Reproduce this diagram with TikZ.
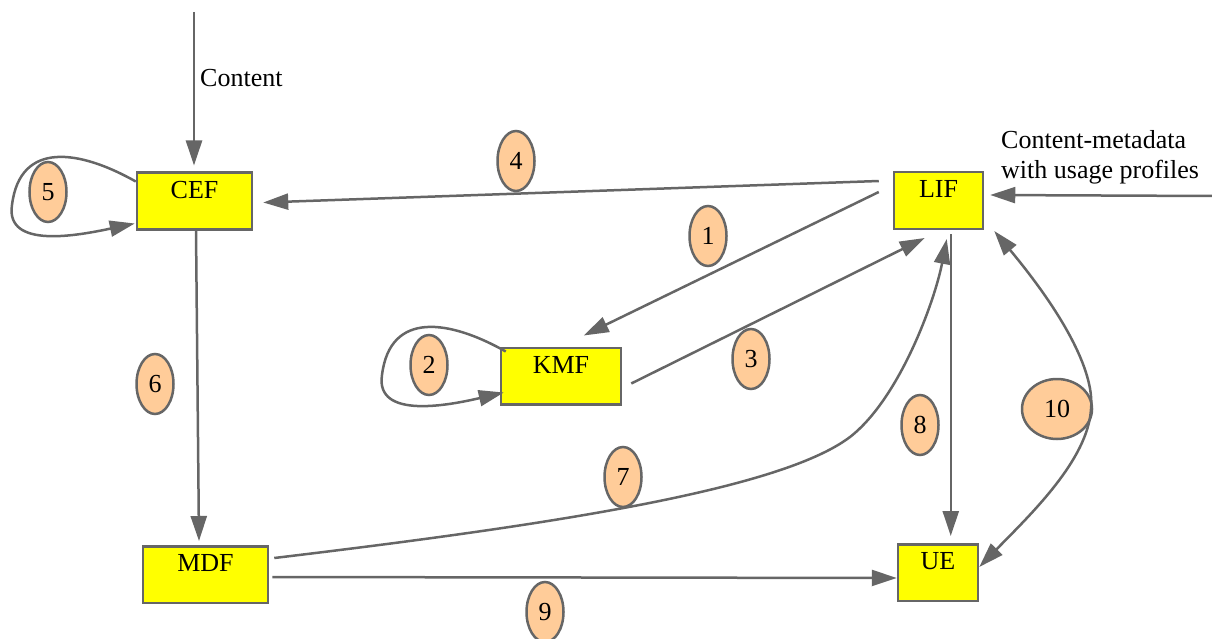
\documentclass[tikz,border=0pt]{standalone}
\usepackage{fontspec}
\setmainfont{Liberation Serif}
\usetikzlibrary{arrows.meta,calc,shapes.geometric}
\definecolor{edgegray}{HTML}{666666}
\definecolor{peach}{HTML}{FFCC99}
\definecolor{boxyellow}{HTML}{FFFF00}
\begin{document}
\begin{tikzpicture}[x=1pt,y=-1pt,
  every node/.style={font=\fontsize{26}{30}\selectfont},
  box/.style={draw=edgegray, line width=2.5pt, fill=boxyellow, inner sep=0pt,
    text height=25.5pt, text depth=31pt},
  lab/.style={ellipse, draw=edgegray, line width=2.5pt, fill=peach, inner sep=0pt,
    minimum width=37pt, minimum height=60pt},
  conn/.style={draw=edgegray, line width=2.5pt, -{Triangle[length=25pt,width=16pt]}},
  dconn/.style={draw=edgegray, line width=2.5pt, {Triangle[length=25pt,width=16pt]}-{Triangle[length=25pt,width=16pt]}},
  plain/.style={inner sep=0pt}
]
\useasboundingbox (0,0) rectangle (1212,639);

% boxes
\node[box, minimum width=115pt] (cef) at (194.5,201) {CEF};
\node[box, minimum width=89pt]  (lif) at (938.5,200.5) {LIF};
\node[box, minimum width=120pt] (kmf) at (561,376) {KMF};
\node[box, minimum width=125pt] (mdf) at (205.5,574.5) {MDF};
\node[box, minimum width=80pt]  (ue)  at (938,572.5) {UE};

% numbered labels
\node[lab] (n1) at (708,236) {1};
\node[lab] (n2) at (429,365) {2};
\node[lab] (n3) at (751,359) {3};
\node[lab] (n4) at (516,161) {4};
\node[lab] (n5) at (48,192) {5};
\node[lab] (n6) at (155,384) {6};
\node[lab] (n7) at (623,477) {7};
\node[lab] (n8) at (920,425) {8};
\node[lab] (n9) at (545,612) {9};
\node[lab, minimum width=70pt] (n10) at (1057,409) {10};

% texts
\node[plain, anchor=base west] (tcontent) at (200,87) {Content};
\node[plain, anchor=north west, align=left] (tmeta) at (1001,130) {Content-metadata\\with usage profiles};

% inputs
\coordinate (cin) at (194,12);
\coordinate (min) at (1212,196);
\draw[conn] (cin) -- ($(cef.north)+(-0.5,-6)$);
\draw[conn] (min) -- ($(lif.north east)+(6,24)$);

% 4: LIF -> CEF
\draw[conn] ($(lif.north west)+(-14,10)$) -- ($(cef.north east)+(10,31)$);
% 1: LIF -> KMF
\draw[conn] ($(lif.north west)+(-14,21)$) -- ($(kmf.north west)+(84,-11)$);
% 3: KMF -> LIF
\draw[conn] ($(kmf.north east)+(9,37)$) -- ($(lif.south west)+(32,8)$);
% 6: CEF -> MDF
\draw[conn] ($(cef.south)+(1.5,0)$) -- ($(mdf.north)+(-6.5,-4)$);
% 7: MDF -> LIF
\draw[conn] ($(mdf.north east)+(5,13)$) .. controls (550,525) and (780,490) .. (850,437)
  .. controls (900,398) and (935,300) .. ($(lif.south west)+(54,9)$);
% 8: LIF -> UE
\draw[conn] ($(lif.south west)+(58,4)$) -- ($(ue.north west)+(54,-7)$);
% 9: MDF -> UE
\draw[conn] ($(mdf.north east)+(3,32)$) -- ($(ue.north west)+(0,35)$);
% 10: LIF <-> UE
\draw[dconn] ($(lif.south east)+(10,1)$) .. controls (1060,310) and (1095,370) .. (1091,409)
  .. controls (1088,460) and (1030,515) .. ($(ue.north east)+(0,24)$);
% 5: loop on CEF
\draw[conn] ($(cef.north west)+(0,10)$) .. controls (80,150) and (20,140) .. (12,205)
  .. controls (5,250) and (80,235) .. ($(cef.north west)+(-1,52)$);
% 2: loop on KMF
\draw[conn] ($(kmf.north west)+(6,5)$) .. controls (450,320) and (390,310) .. (382,375)
  .. controls (375,420) and (450,405) .. ($(kmf.north west)+(4,46)$);
\end{tikzpicture}
\end{document}
